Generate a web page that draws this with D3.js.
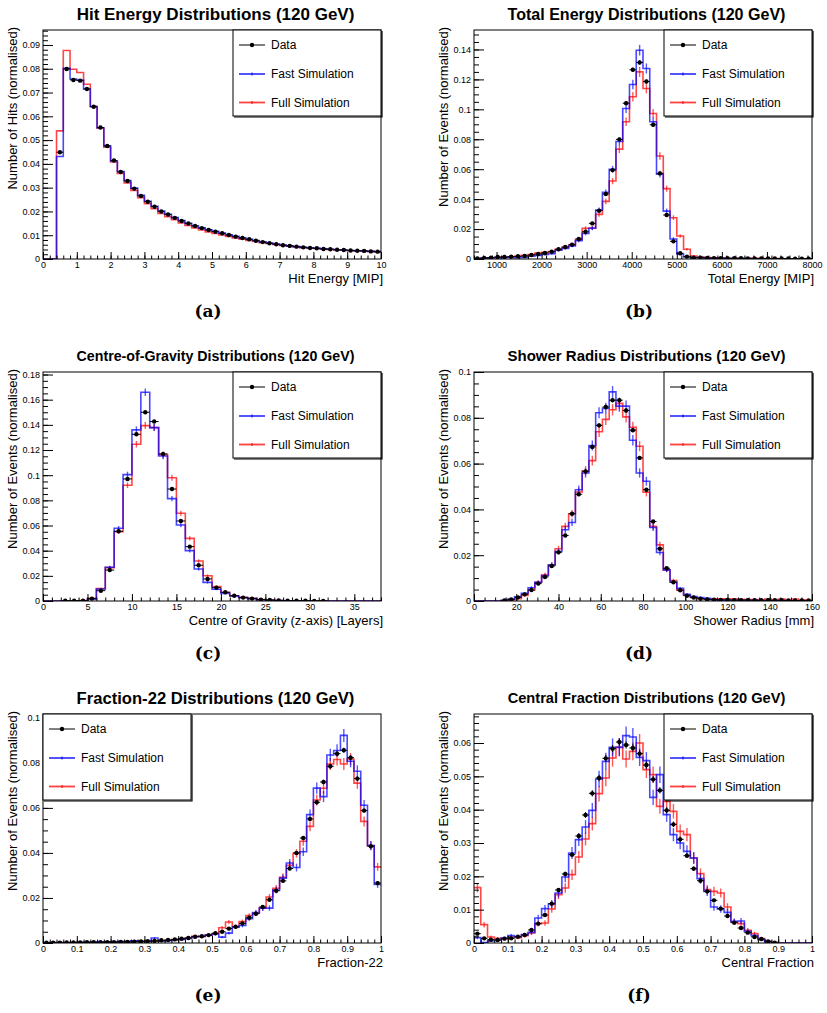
<!DOCTYPE html>
<html>
<head>
<meta charset="utf-8">
<script src="https://cdn.jsdelivr.net/npm/d3@7"></script>
<style>
  body { margin: 0; background: #fff; }
  svg text { font-family: "Liberation Sans", Arial, Helvetica, sans-serif; fill: #000; }
</style>
</head>
<body>
<div id="chart"></div>
<script>
// ---------- data (normalised bin contents) ----------

// (a) hit energy, 50 bins 0..10 MIP
const hitEnergyData = [null, null, 0.0449, 0.0799, 0.0753, 0.0750, 0.0715, 0.0640, 0.0553, 0.0475,
  0.0414, 0.0366, 0.0328, 0.0296, 0.0265, 0.0241, 0.0220, 0.0200, 0.0187, 0.0173,
  0.0160, 0.0149, 0.0139, 0.0130, 0.0122, 0.0115, 0.0108, 0.0101, 0.0094, 0.0088,
  0.0083, 0.0077, 0.0071, 0.0066, 0.0062, 0.0058, 0.0055, 0.0052, 0.0049, 0.0046,
  0.0045, 0.0042, 0.0041, 0.0039, 0.0038, 0.0036, 0.0035, 0.0034, 0.0032, 0.0031];
const hitEnergyFast = [0, 0, 0.0431, 0.0802, 0.0757, 0.0753, 0.0715, 0.0641, 0.0552, 0.0476,
  0.0412, 0.0368, 0.0330, 0.0298, 0.0268, 0.0243, 0.0222, 0.0202, 0.0188, 0.0174,
  0.0162, 0.0150, 0.0140, 0.0131, 0.0123, 0.0116, 0.0109, 0.0102, 0.0095, 0.0089,
  0.0083, 0.0078, 0.0072, 0.0067, 0.0063, 0.0059, 0.0055, 0.0052, 0.0049, 0.0047,
  0.0045, 0.0043, 0.0041, 0.0039, 0.0038, 0.0036, 0.0035, 0.0034, 0.0032, 0.0031];
const hitEnergyFull = [0, 0, 0.0539, 0.0877, 0.0798, 0.0784, 0.0735, 0.0641, 0.0550, 0.0470,
  0.0408, 0.0360, 0.0320, 0.0288, 0.0258, 0.0233, 0.0212, 0.0192, 0.0178, 0.0165,
  0.0152, 0.0141, 0.0131, 0.0122, 0.0114, 0.0107, 0.0101, 0.0095, 0.0089, 0.0083,
  0.0078, 0.0074, 0.0069, 0.0065, 0.0061, 0.0057, 0.0054, 0.0051, 0.0048, 0.0046,
  0.0044, 0.0042, 0.0040, 0.0038, 0.0037, 0.0035, 0.0034, 0.0033, 0.0032, 0.0030];

// (b) total energy, 50 bins 500..8000 MIP
const totalEnergyData = [0.0003, 0.0007, 0.0009, 0.0013, 0.0013, 0.0016, 0.0018, 0.0020, 0.0027, 0.0033,
  0.0040, 0.0049, 0.0065, 0.0080, 0.0096, 0.0134, 0.0182, 0.0238, 0.0323, 0.0434,
  0.0594, 0.0799, 0.1041, 0.1264, 0.1313, 0.1186, 0.0897, 0.0572, 0.0294, 0.0118,
  0.0038, 0.0016, 0.0009, 0.0009, 0.0007, 0.0006, 0.0006, 0.0005, 0.0005, 0.0005,
  0.0004, 0.0004, 0.0004, 0.0003, 0.0003, 0.0003, 0.0003, 0.0002, 0.0002, 0.0002];
const totalEnergyFast = [0.0004, 0.0006, 0.0008, 0.0009, 0.0010, 0.0010, 0.0008, 0.0010, 0.0018, 0.0024,
  0.0030, 0.0036, 0.0058, 0.0071, 0.0087, 0.0122, 0.0171, 0.0205, 0.0327, 0.0445,
  0.0599, 0.0785, 0.1006, 0.1166, 0.1395, 0.1273, 0.0917, 0.0567, 0.0320, 0.0134,
  0.0033, 0.0013, 0.0009, 0.0010, 0.0005, 0.0004, 0.0004, 0.0003, 0.0003, 0.0003,
  0.0003, 0.0002, 0.0002, 0.0002, 0.0002, 0.0002, 0.0001, 0.0001, 0.0001, 0.0001];
const totalEnergyFull = [0.0003, 0.0005, 0.0008, 0.0010, 0.0012, 0.0014, 0.0018, 0.0024, 0.0030, 0.0040,
  0.0045, 0.0049, 0.0065, 0.0078, 0.0093, 0.0130, 0.0205, 0.0207, 0.0298, 0.0385,
  0.0521, 0.0734, 0.0917, 0.1084, 0.1250, 0.1139, 0.0972, 0.0688, 0.0470, 0.0276,
  0.0154, 0.0065, 0.0020, 0.0013, 0.0010, 0.0008, 0.0006, 0.0005, 0.0005, 0.0004,
  0.0004, 0.0004, 0.0003, 0.0003, 0.0003, 0.0002, 0.0002, 0.0002, 0.0002, 0.0002];

// (c) centre of gravity, 38 bins 0..38 layers
const cogData = [null, null, 0.0002, 0.0002, 0.0003, 0.0019, 0.0082, 0.0246, 0.0554, 0.0970,
  0.1325, 0.1500, 0.1426, 0.1169, 0.0890, 0.0636, 0.0432, 0.0284, 0.0175, 0.0106,
  0.0069, 0.0042, 0.0027, 0.0019, 0.0011, 0.0008, 0.0005, 0.0003, 0.0002, 0.0002,
  0.0001, 0.0001, null, null, null, null, null, null];
const cogFast = [0, 0, 0, 0, 0.0002, 0.0015, 0.0095, 0.0268, 0.0578, 0.1004,
  0.1360, 0.1659, 0.1378, 0.1153, 0.0814, 0.0604, 0.0400, 0.0254, 0.0148, 0.0093,
  0.0061, 0.0040, 0.0027, 0.0019, 0.0010, 0.0006, 0.0003, 0.0002, 0.0001, 0.0001,
  0, 0, 0, 0, 0, 0, 0, 0];
const cogFull = [0, 0, 0, 0.0001, 0.0003, 0.0022, 0.0098, 0.0265, 0.0551, 0.0920,
  0.1246, 0.1394, 0.1378, 0.1163, 0.0980, 0.0697, 0.0498, 0.0318, 0.0201, 0.0114,
  0.0069, 0.0042, 0.0029, 0.0021, 0.0012, 0.0008, 0.0004, 0.0002, 0.0001, 0,
  0, 0, 0, 0, 0, 0, 0, 0];

// (d) shower radius, 50 bins 0..160 mm
const radiusData = [null, null, null, null, 0.0002, 0.0007, 0.0016, 0.0029, 0.0048, 0.0076,
  0.0105, 0.0153, 0.0213, 0.0286, 0.0381, 0.0466, 0.0566, 0.0673, 0.0767, 0.0847,
  0.0877, 0.0877, 0.0832, 0.0746, 0.0625, 0.0486, 0.0347, 0.0228, 0.0143, 0.0082,
  0.0047, 0.0023, 0.0015, 0.0010, 0.0007, 0.0006, 0.0005, 0.0005, 0.0004, 0.0004,
  0.0004, 0.0003, 0.0003, 0.0003, 0.0003, 0.0003, 0.0002, 0.0002, 0.0002, 0.0002];
const radiusFast = [0, 0, 0, 0, 0.0003, 0.0008, 0.0018, 0.0034, 0.0058, 0.0082,
  0.0110, 0.0158, 0.0216, 0.0311, 0.0343, 0.0486, 0.0559, 0.0679, 0.0822, 0.0841,
  0.0913, 0.0851, 0.0851, 0.0702, 0.0559, 0.0523, 0.0321, 0.0212, 0.0136, 0.0082,
  0.0055, 0.0029, 0.0019, 0.0015, 0.0012, 0.0006, 0.0004, 0.0004, 0.0003, 0.0003,
  0.0003, 0.0003, 0.0002, 0.0002, 0.0002, 0.0002, 0.0002, 0.0001, 0.0001, 0.0001];
const radiusFull = [0, 0, 0, 0, 0.0002, 0.0005, 0.0010, 0.0024, 0.0048, 0.0082,
  0.0114, 0.0156, 0.0228, 0.0326, 0.0381, 0.0476, 0.0569, 0.0613, 0.0739, 0.0793,
  0.0835, 0.0863, 0.0804, 0.0759, 0.0676, 0.0475, 0.0326, 0.0245, 0.0136, 0.0089,
  0.0048, 0.0025, 0.0015, 0.0010, 0.0008, 0.0008, 0.0010, 0.0010, 0.0010, 0.0007,
  0.0006, 0.0006, 0.0005, 0.0009, 0.0005, 0.0008, 0.0004, 0.0009, 0.0005, 0.0004];

// (e) fraction-22, 50 bins 0..1
const frac22Data = [0.0001, 0.0001, 0.0001, 0.0002, 0.0002, 0.0002, 0.0003, 0.0003, 0.0003, 0.0004,
  0.0004, 0.0005, 0.0005, 0.0006, 0.0007, 0.0008, 0.0009, 0.0012, 0.0013, 0.0016,
  0.0019, 0.0022, 0.0028, 0.0030, 0.0035, 0.0043, 0.0050, 0.0064, 0.0072, 0.0087,
  0.0112, 0.0130, 0.0160, 0.0192, 0.0232, 0.0276, 0.0331, 0.0400, 0.0466, 0.0551,
  0.0625, 0.0715, 0.0785, 0.0841, 0.0856, 0.0823, 0.0730, 0.0588, 0.0430, 0.0266];
const frac22Fast = [0.0002, 0.0002, 0.0002, 0.0002, 0.0003, 0.0003, 0.0004, 0.0004, 0.0005, 0.0005,
  0.0005, 0.0006, 0.0006, 0.0010, 0.0008, 0.0007, 0.0022, 0.0008, 0.0010, 0.0013,
  0.0016, 0.0020, 0.0028, 0.0030, 0.0035, 0.0040, 0.0026, 0.0044, 0.0070, 0.0078,
  0.0108, 0.0135, 0.0155, 0.0155, 0.0235, 0.0288, 0.0355, 0.0335, 0.0405, 0.0570,
  0.0688, 0.0650, 0.0835, 0.0855, 0.0922, 0.0807, 0.0763, 0.0612, 0.0433, 0.0260];
const frac22Full = [0.0001, 0.0002, 0.0002, 0.0002, 0.0002, 0.0003, 0.0003, 0.0003, 0.0004, 0.0004,
  0.0004, 0.0005, 0.0006, 0.0007, 0.0007, 0.0008, 0.0010, 0.0010, 0.0012, 0.0015,
  0.0017, 0.0022, 0.0030, 0.0028, 0.0035, 0.0042, 0.0068, 0.0093, 0.0072, 0.0095,
  0.0122, 0.0132, 0.0155, 0.0204, 0.0243, 0.0292, 0.0345, 0.0398, 0.0452, 0.0518,
  0.0635, 0.0687, 0.0795, 0.0815, 0.0795, 0.0817, 0.0710, 0.0540, 0.0432, 0.0338];

// (f) central fraction, 50 bins 0..1
const centralData = [0.0028, 0.0014, 0.0010, 0.0009, 0.0013, 0.0014, 0.0019, 0.0024, 0.0039, 0.0058,
  0.0084, 0.0118, 0.0159, 0.0207, 0.0265, 0.0321, 0.0384, 0.0449, 0.0495, 0.0554,
  0.0583, 0.0603, 0.0594, 0.0585, 0.0568, 0.0534, 0.0491, 0.0458, 0.0398, 0.0356,
  0.0311, 0.0262, 0.0223, 0.0187, 0.0155, 0.0128, 0.0103, 0.0081, 0.0061, 0.0045,
  0.0031, 0.0018, 0.0012, 0.0005, 0.0001, null, null, null, null, null];
const centralFast = [0.0016, 0.0001, 0.0006, 0.0009, 0.0015, 0.0022, 0.0018, 0.0025, 0.0032, 0.0075,
  0.0103, 0.0117, 0.0150, 0.0198, 0.0270, 0.0310, 0.0348, 0.0398, 0.0492, 0.0545,
  0.0587, 0.0587, 0.0622, 0.0618, 0.0557, 0.0547, 0.0437, 0.0505, 0.0385, 0.0325,
  0.0300, 0.0275, 0.0255, 0.0193, 0.0155, 0.0108, 0.0102, 0.0092, 0.0065, 0.0066,
  0.0035, 0.0022, 0.0010, 0.0004, 0.0001, 0, 0, 0, 0, 0];
const centralFull = [0.0166, 0.0055, 0.0018, 0.0014, 0.0012, 0.0018, 0.0016, 0.0022, 0.0030, 0.0058,
  0.0060, 0.0102, 0.0145, 0.0165, 0.0205, 0.0258, 0.0312, 0.0358, 0.0448, 0.0495,
  0.0555, 0.0588, 0.0552, 0.0575, 0.0600, 0.0520, 0.0505, 0.0410, 0.0425, 0.0395,
  0.0335, 0.0325, 0.0255, 0.0208, 0.0160, 0.0155, 0.0150, 0.0108, 0.0063, 0.0058,
  0.0038, 0.0028, 0.0013, 0.0005, 0.0001, 0, 0, 0, 0, 0];

// tick labels
const hitEnergyXTicks = [0, 1, 2, 3, 4, 5, 6, 7, 8, 9, 10];
const hitEnergyYTicks = [0, 0.01, 0.02, 0.03, 0.04, 0.05, 0.06, 0.07, 0.08, 0.09];
const totalEnergyXTicks = [1000, 2000, 3000, 4000, 5000, 6000, 7000, 8000];
const totalEnergyYTicks = [0, 0.02, 0.04, 0.06, 0.08, 0.1, 0.12, 0.14];
const cogXTicks = [0, 5, 10, 15, 20, 25, 30, 35];
const cogYTicks = [0, 0.02, 0.04, 0.06, 0.08, 0.1, 0.12, 0.14, 0.16, 0.18];
const radiusXTicks = [0, 20, 40, 60, 80, 100, 120, 140, 160];
const radiusYTicks = [0, 0.02, 0.04, 0.06, 0.08, 0.1];
const fractionXTicks = [0, 0.1, 0.2, 0.3, 0.4, 0.5, 0.6, 0.7, 0.8, 0.9, 1];
const frac22YTicks = [0, 0.02, 0.04, 0.06, 0.08, 0.1];
const centralYTicks = [0, 0.01, 0.02, 0.03, 0.04, 0.05, 0.06];

const legendLabels = ['Data', 'Fast Simulation', 'Full Simulation'];

// ---------- panel setup ----------
const panels = [
  {tag: 'a', left: 43, top: 30, title: 'Hit Energy Distributions (120 GeV)',
   xTitle: 'Hit Energy [MIP]', yTitle: 'Number of Hits (normalised)',
   xDomain: [0, 10], yMax: 0.0963, xTicks: hitEnergyXTicks, yTicks: hitEnergyYTicks,
   xMinor: 0.2, yMinor: 0.002, err: 0.0004, legend: 'right',
   data: hitEnergyData, fast: hitEnergyFast, full: hitEnergyFull},
  {tag: 'b', left: 474, top: 30, title: 'Total Energy Distributions (120 GeV)',
   xTitle: 'Total Energy [MIP]', yTitle: 'Number of Events (normalised)',
   xDomain: [500, 8000], yMax: 0.153, xTicks: totalEnergyXTicks, yTicks: totalEnergyYTicks,
   xMinor: 200, yMinor: 0.005, err: 0.0095, legend: 'right',
   data: totalEnergyData, fast: totalEnergyFast, full: totalEnergyFull},
  {tag: 'c', left: 43, top: 372, title: 'Centre-of-Gravity Distributions (120 GeV)',
   xTitle: 'Centre of Gravity (z-axis) [Layers]', yTitle: 'Number of Events (normalised)',
   xDomain: [0, 38], yMax: 0.182, xTicks: cogXTicks, yTicks: cogYTicks,
   xMinor: 1, yMinor: 0.005, err: 0.0075, legend: 'right',
   data: cogData, fast: cogFast, full: cogFull},
  {tag: 'd', left: 474, top: 372, title: 'Shower Radius Distributions (120 GeV)',
   xTitle: 'Shower Radius [mm]', yTitle: 'Number of Events (normalised)',
   xDomain: [0, 160], yMax: 0.1, xTicks: radiusXTicks, yTicks: radiusYTicks,
   xMinor: 5, yMinor: 0.005, err: 0.0085, legend: 'right',
   data: radiusData, fast: radiusFast, full: radiusFull},
  {tag: 'e', left: 43, top: 714, title: 'Fraction-22 Distributions (120 GeV)',
   xTitle: 'Fraction-22', yTitle: 'Number of Events (normalised)',
   xDomain: [0, 1], yMax: 0.1017, xTicks: fractionXTicks, yTicks: frac22YTicks,
   xMinor: 0.02, yMinor: 0.005, err: 0.0095, legend: 'left',
   data: frac22Data, fast: frac22Fast, full: frac22Full},
  {tag: 'f', left: 474, top: 714, title: 'Central Fraction Distributions (120 GeV)',
   xTitle: 'Central Fraction', yTitle: 'Number of Events (normalised)',
   xDomain: [0, 1], yMax: 0.0687, xTicks: fractionXTicks, yTicks: centralYTicks,
   xMinor: 0.02, yMinor: 0.002, err: 0.011, legend: 'right',
   data: centralData, fast: centralFast, full: centralFull}
];

const frameW = 338, frameH = 229;
const colFast = '#0000ff', colFull = '#ff0000';
const dataErrRatio = 0.4; // data sample is larger, its bars are shorter
const fmt = d => String(+d.toFixed(4));

const svg = d3.select('#chart').append('svg')
    .attr('width', 827)
    .attr('height', 1013);

panels.forEach(drawPanel);

function drawPanel(p) {
  const g = svg.append('g').attr('transform', `translate(${p.left},${p.top})`);

  const x = d3.scaleLinear().domain(p.xDomain).range([0, frameW]);
  const y = d3.scaleLinear().domain([0, p.yMax]).range([frameH, 0]);

  const nBins = p.data.length;
  const bw = (p.xDomain[1] - p.xDomain[0]) / nBins;
  const edge = i => p.xDomain[0] + i * bw;
  const centre = i => edge(i) + bw / 2;

  g.append('clipPath').attr('id', 'clip-' + p.tag)
    .append('rect').attr('width', frameW).attr('height', frameH);
  const plot = g.append('g').attr('clip-path', `url(#clip-${p.tag})`);

  // simulation histograms: full first, fast on top
  const step = d3.line().x(d => x(d[0])).y(d => y(d[1])).curve(d3.curveStepAfter);
  [[p.full, colFull], [p.fast, colFast]].forEach(([vals, col]) => {
    const pts = vals.map((v, i) => [edge(i), v]);
    pts.push([edge(nBins), vals[nBins - 1]]);
    plot.append('path')
      .attr('d', step(pts))
      .attr('fill', 'none')
      .attr('stroke', col)
      .attr('stroke-width', 1.6)
      .attr('stroke-opacity', 0.72);

    const bins = vals.map((v, i) => ({v, i})).filter(d => d.v > 0);
    plot.selectAll(null).data(bins).join('line')
      .attr('x1', d => x(centre(d.i)))
      .attr('x2', d => x(centre(d.i)))
      .attr('y1', d => y(d.v + p.err * Math.sqrt(d.v)))
      .attr('y2', d => y(Math.max(0, d.v - p.err * Math.sqrt(d.v))))
      .attr('stroke', col)
      .attr('stroke-width', 1.4)
      .attr('stroke-opacity', 0.65);
  });

  // data points with errors
  const pts = p.data.map((v, i) => ({v, i})).filter(d => d.v !== null);
  const de = v => dataErrRatio * p.err * Math.sqrt(v);
  plot.selectAll(null).data(pts).join('line')
    .attr('x1', d => x(edge(d.i)))
    .attr('x2', d => x(edge(d.i + 1)))
    .attr('y1', d => y(d.v))
    .attr('y2', d => y(d.v))
    .attr('stroke', '#000')
    .attr('stroke-width', 1);
  plot.selectAll(null).data(pts).join('line')
    .attr('x1', d => x(centre(d.i)))
    .attr('x2', d => x(centre(d.i)))
    .attr('y1', d => y(d.v + de(d.v)))
    .attr('y2', d => y(Math.max(0, d.v - de(d.v))))
    .attr('stroke', '#000')
    .attr('stroke-width', 1);
  plot.selectAll(null).data(pts).join('circle')
    .attr('cx', d => x(centre(d.i)))
    .attr('cy', d => y(d.v))
    .attr('r', 2.2)
    .attr('fill', '#000');

  // axes, ROOT style ticks pointing inwards
  const yMinorTicks = d3.range(0, p.yMax + 1e-9, p.yMinor);
  const xMinorTicks = d3.range(p.xDomain[0], p.xDomain[1] + 1e-9, p.xMinor);

  const yAxis = g.append('g')
    .call(d3.axisLeft(y).tickValues(p.yTicks).tickSize(-10).tickPadding(3).tickFormat(fmt));
  g.append('g')
    .call(d3.axisLeft(y).tickValues(yMinorTicks).tickSize(-5).tickFormat(''));
  const xAxis = g.append('g').attr('transform', `translate(0,${frameH})`)
    .call(d3.axisBottom(x).tickValues(p.xTicks).tickSize(-7).tickPadding(3).tickFormat(fmt));
  g.append('g').attr('transform', `translate(0,${frameH})`)
    .call(d3.axisBottom(x).tickValues(xMinorTicks).tickSize(-3.5).tickFormat(''));

  g.selectAll('.domain').remove();
  g.selectAll('.tick line').attr('stroke', '#000').attr('stroke-width', 1);
  [yAxis, xAxis].forEach(a => a.selectAll('text')
    .attr('font-family', '"Liberation Sans", Arial, sans-serif')
    .attr('font-size', 9)
    .attr('fill', '#222'));

  // frame
  g.append('rect')
    .attr('width', frameW)
    .attr('height', frameH)
    .attr('fill', 'none')
    .attr('stroke', '#000')
    .attr('stroke-width', 1);

  // legend
  const lw = 148, lh = 86;
  const lx = p.legend === 'right' ? frameW - lw : 0;
  const leg = g.append('g').attr('transform', `translate(${lx},0)`);
  leg.append('rect')
    .attr('width', lw).attr('height', lh)
    .attr('fill', '#fff').attr('stroke', '#000').attr('stroke-width', 1);
  leg.append('path')
    .attr('d', `M1,${lh + 1}H${lw + 1}V1`)
    .attr('fill', 'none').attr('stroke', '#000').attr('stroke-width', 1.2);

  const rows = [15, 44, 72.5];
  const cols = ['#000', colFast, colFull];
  legendLabels.forEach((lab, k) => {
    const ey = rows[k];
    leg.append('line')
      .attr('x1', 6).attr('x2', 32).attr('y1', ey).attr('y2', ey)
      .attr('stroke', cols[k])
      .attr('stroke-width', k === 0 ? 1 : 1.8)
      .attr('stroke-opacity', k === 0 ? 1 : 0.75);
    if (k === 0) {
      leg.append('circle').attr('cx', 19).attr('cy', ey).attr('r', 2.2).attr('fill', '#000');
    } else {
      leg.append('line')
        .attr('x1', 19).attr('x2', 19).attr('y1', ey - 1.5).attr('y2', ey + 1.5)
        .attr('stroke', cols[k]).attr('stroke-width', 1);
    }
    leg.append('text')
      .attr('x', 38).attr('y', ey)
      .attr('dy', '0.35em')
      .attr('font-size', 12)
      .text(lab);
  });

  // titles
  const title = g.append('text')
    .attr('x', frameW / 2 + 3.5)
    .attr('y', -16)
    .attr('dy', '0.35em')
    .attr('text-anchor', 'middle')
    .attr('font-weight', 'bold')
    .attr('font-size', 17)
    .text(p.title);
  const tl = title.node().getComputedTextLength();
  title.attr('font-size', 17 * 278 / tl);

  g.append('text')
    .attr('x', frameW + 2)
    .attr('y', frameH + 24)
    .attr('text-anchor', 'end')
    .attr('font-size', 13)
    .text(p.xTitle);

  g.append('text')
    .attr('transform', 'translate(-31,-3) rotate(-90)')
    .attr('dy', '0.35em')
    .attr('text-anchor', 'end')
    .attr('font-size', 13)
    .text(p.yTitle);

  // sub-figure caption
  g.append('text')
    .attr('x', frameW / 2 - 4)
    .attr('y', frameH + 52)
    .attr('dy', '0.35em')
    .attr('text-anchor', 'middle')
    .style('font-family', '"DejaVu Serif", "Liberation Serif", serif')
    .attr('font-weight', 'bold')
    .attr('font-size', 17)
    .text(`(${p.tag})`);
}
</script>
</body>
</html>
